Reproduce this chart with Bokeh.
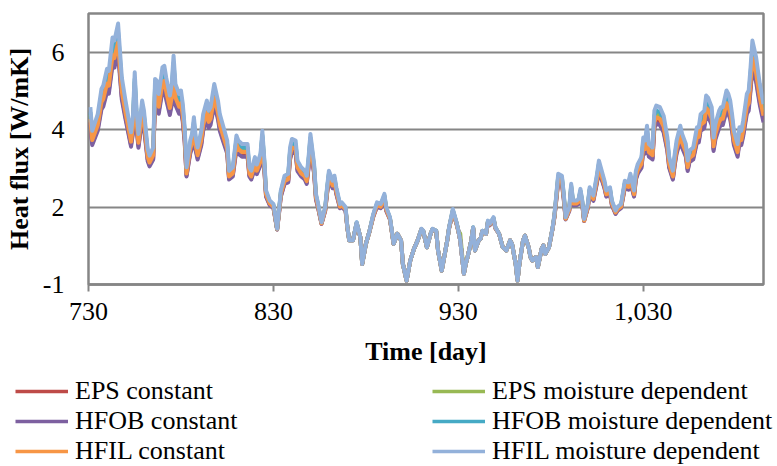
from bokeh.plotting import figure
from bokeh.layouts import column
from bokeh.models import Range1d, FixedTicker, NumeralTickFormatter, Legend, LegendItem
from bokeh.embed import file_html
from bokeh.resources import INLINE

# Simulation days (third year of the simulation)
day = [
    731, 732, 735, 737, 738, 740, 741, 743, 744, 746,
    747, 748, 750, 753, 754, 755, 756, 757, 759, 760,
    762, 763, 765, 766, 767, 768, 770, 771, 772, 774,
    775, 776, 777, 779, 780, 781, 782, 783, 785, 786,
    787, 788, 789, 791, 792, 794, 795, 796, 798, 800,
    801, 803, 805, 806, 808, 810, 811, 813, 814, 816,
    817, 818, 820, 821, 823, 824, 825, 826, 828, 830,
    832, 833, 834, 836, 838, 839, 840, 842, 843, 845,
    847, 848, 849, 850, 852, 853, 854, 856, 858, 859,
    860, 862, 863, 864, 866, 867, 869, 870, 871, 873,
    875, 877, 878, 880, 882, 884, 886, 888, 890, 891,
    893, 895, 897, 899, 900, 902, 904, 906, 908, 910,
    911, 913, 915, 916, 918, 919, 921, 923, 924, 925,
    927, 929, 930, 931, 933, 934, 935, 937, 938, 939,
    941, 942, 943, 945, 946, 947, 949, 950, 952, 954,
    956, 958, 959, 961, 962, 963, 965, 966, 968, 969,
    970, 972, 973, 975, 976, 977, 979, 981, 982, 983,
    984, 986, 987, 988, 990, 991, 992, 994, 995, 996,
    997, 998, 1000, 1001, 1003, 1005, 1006, 1007, 1009, 1010,
    1012, 1013, 1015, 1016, 1018, 1020, 1022, 1023, 1025, 1026,
    1027, 1029, 1030, 1031, 1032, 1033, 1035, 1036, 1037, 1039,
    1041, 1043, 1044, 1046, 1047, 1048, 1050, 1051, 1053, 1054,
    1055, 1057, 1059, 1060, 1061, 1063, 1064, 1065, 1067, 1068,
    1069, 1071, 1072, 1073, 1075, 1076, 1077, 1078, 1079, 1081,
    1082, 1083, 1084, 1086, 1087, 1088, 1089, 1091, 1092, 1093,
    1094, 1095,
]

# Heat flux [W/mK] per insulation case
hfil_moisture = [
    4.58, 3.97, 4.40, 5.05, 5.14, 5.57, 5.52, 6.38, 6.30, 6.74,
    6.04, 5.35, 4.75, 3.93, 4.32, 5.48, 4.49, 3.89, 4.75, 4.49,
    3.50, 3.33, 3.54, 5.31, 5.26, 4.92, 5.61, 5.65, 5.35, 4.88,
    5.18, 5.91, 5.18, 4.92, 5.01, 4.66, 4.06, 3.03, 3.72, 3.89,
    4.32, 3.80, 3.54, 3.97, 4.40, 4.75, 4.49, 4.58, 5.18, 4.75,
    4.40, 4.06, 3.72, 2.94, 3.03, 3.85, 3.72, 3.63, 3.63, 3.63,
    3.03, 2.94, 3.29, 3.10, 3.37, 3.97, 3.29, 2.43, 2.17, 2.08,
    1.44, 1.91, 2.43, 2.81, 2.86, 3.54, 3.76, 3.72, 3.20, 3.03,
    2.94, 2.81, 3.29, 3.89, 3.11, 2.34, 2.12, 1.61, 2.00, 2.51,
    2.94, 2.68, 2.81, 2.51, 2.08, 2.12, 2.00, 1.48, 1.14, 1.14,
    1.61, 1.22, 0.53, 1.05, 1.39, 1.82, 2.12, 2.08, 2.34, 2.00,
    1.74, 1.05, 1.31, 1.14, 0.53, 0.10, 0.62, 0.92, 1.14, 1.44,
    1.39, 0.96, 1.31, 1.44, 1.39, 0.88, 0.36, 0.88, 1.14, 1.48,
    1.95, 1.61, 1.39, 1.14, 0.28, 0.53, 0.71, 1.14, 1.48, 0.88,
    1.14, 1.18, 1.39, 1.31, 1.65, 1.57, 1.74, 1.48, 1.31, 0.96,
    0.88, 1.14, 1.05, 0.53, 0.10, 0.53, 1.14, 1.26, 0.96, 0.71,
    0.62, 0.71, 0.45, 0.92, 1.01, 0.79, 0.96, 1.48, 1.82, 2.34,
    2.86, 2.81, 2.34, 1.74, 2.00, 2.60, 2.17, 2.17, 2.21, 2.47,
    2.17, 1.69, 2.08, 2.51, 2.30, 2.86, 3.20, 3.03, 2.68, 2.43,
    2.51, 2.17, 1.91, 2.00, 2.08, 2.68, 2.64, 2.86, 2.43, 2.94,
    3.11, 3.29, 3.80, 3.72, 4.10, 3.63, 3.54, 4.49, 4.62, 4.58,
    4.36, 3.80, 3.29, 2.94, 3.37, 3.72, 4.10, 3.89, 3.63, 3.20,
    3.46, 3.54, 4.06, 4.06, 4.40, 4.49, 4.88, 4.83, 4.58, 3.80,
    4.15, 4.49, 4.58, 4.58, 5.01, 4.92, 4.75, 4.40, 3.97, 3.63,
    4.06, 3.97, 4.23, 4.92, 5.01, 5.61, 6.30, 5.87, 5.52, 5.18,
    4.92, 4.66,
]

hfob_moisture = [
    4.45, 3.86, 4.28, 4.90, 4.99, 5.40, 5.35, 6.18, 6.10, 6.52,
    5.85, 5.19, 4.61, 3.82, 4.20, 5.31, 4.36, 3.79, 4.61, 4.36,
    3.41, 3.25, 3.45, 5.15, 5.10, 4.78, 5.44, 5.48, 5.19, 4.74,
    5.02, 5.73, 5.02, 4.78, 4.86, 4.53, 3.95, 2.96, 3.62, 3.79,
    4.20, 3.70, 3.45, 3.86, 4.28, 4.61, 4.36, 4.45, 5.02, 4.61,
    4.28, 3.95, 3.62, 2.87, 2.96, 3.75, 3.62, 3.54, 3.54, 3.54,
    2.96, 2.87, 3.21, 3.03, 3.29, 3.86, 3.21, 2.38, 2.14, 2.05,
    1.43, 1.89, 2.38, 2.75, 2.80, 3.45, 3.66, 3.62, 3.12, 2.96,
    2.87, 2.75, 3.21, 3.79, 3.04, 2.30, 2.09, 1.60, 1.97, 2.46,
    2.87, 2.62, 2.75, 2.46, 2.05, 2.09, 1.97, 1.47, 1.14, 1.14,
    1.60, 1.22, 0.53, 1.05, 1.39, 1.80, 2.09, 2.05, 2.30, 1.97,
    1.72, 1.05, 1.31, 1.14, 0.53, 0.10, 0.62, 0.92, 1.14, 1.43,
    1.39, 0.96, 1.31, 1.43, 1.39, 0.88, 0.36, 0.88, 1.14, 1.47,
    1.92, 1.60, 1.39, 1.14, 0.28, 0.53, 0.71, 1.14, 1.47, 0.88,
    1.14, 1.18, 1.39, 1.31, 1.64, 1.56, 1.72, 1.47, 1.31, 0.96,
    0.88, 1.14, 1.05, 0.53, 0.10, 0.53, 1.14, 1.26, 0.96, 0.71,
    0.62, 0.71, 0.45, 0.92, 1.01, 0.79, 0.96, 1.47, 1.80, 2.30,
    2.80, 2.75, 2.30, 1.72, 1.97, 2.55, 2.14, 2.14, 2.17, 2.42,
    2.14, 1.67, 2.05, 2.46, 2.26, 2.80, 3.12, 2.96, 2.62, 2.38,
    2.46, 2.14, 1.89, 1.97, 2.05, 2.62, 2.59, 2.80, 2.38, 2.87,
    3.04, 3.21, 3.70, 3.62, 3.99, 3.54, 3.45, 4.36, 4.49, 4.45,
    4.24, 3.70, 3.21, 2.87, 3.29, 3.62, 3.99, 3.79, 3.54, 3.12,
    3.37, 3.45, 3.95, 3.95, 4.28, 4.36, 4.74, 4.69, 4.45, 3.70,
    4.04, 4.36, 4.45, 4.45, 4.86, 4.78, 4.61, 4.28, 3.86, 3.54,
    3.95, 3.86, 4.11, 4.78, 4.86, 5.44, 6.10, 5.69, 5.35, 5.02,
    4.78, 4.53,
]

eps_moisture = [
    4.38, 3.81, 4.21, 4.82, 4.91, 5.31, 5.27, 6.08, 6.00, 6.41,
    5.76, 5.11, 4.54, 3.77, 4.14, 5.23, 4.30, 3.73, 4.54, 4.30,
    3.37, 3.21, 3.41, 5.07, 5.02, 4.70, 5.35, 5.39, 5.11, 4.67,
    4.95, 5.63, 4.95, 4.70, 4.79, 4.46, 3.89, 2.93, 3.57, 3.73,
    4.14, 3.65, 3.41, 3.81, 4.21, 4.54, 4.30, 4.38, 4.95, 4.54,
    4.21, 3.89, 3.57, 2.84, 2.93, 3.70, 3.57, 3.49, 3.49, 3.49,
    2.93, 2.84, 3.17, 2.99, 3.25, 3.81, 3.17, 2.36, 2.12, 2.03,
    1.43, 1.87, 2.36, 2.72, 2.77, 3.41, 3.61, 3.57, 3.09, 2.93,
    2.84, 2.72, 3.17, 3.73, 3.00, 2.28, 2.07, 1.59, 1.96, 2.44,
    2.84, 2.60, 2.72, 2.44, 2.03, 2.07, 1.96, 1.47, 1.14, 1.14,
    1.59, 1.22, 0.53, 1.05, 1.38, 1.79, 2.07, 2.03, 2.28, 1.96,
    1.71, 1.05, 1.31, 1.14, 0.53, 0.10, 0.62, 0.92, 1.14, 1.43,
    1.38, 0.96, 1.31, 1.43, 1.38, 0.88, 0.36, 0.88, 1.14, 1.47,
    1.91, 1.59, 1.38, 1.32, 0.28, 0.53, 0.71, 1.14, 1.47, 0.88,
    1.14, 1.18, 1.38, 1.31, 1.63, 1.55, 1.71, 1.47, 1.31, 0.96,
    0.88, 1.14, 1.05, 0.53, 0.10, 0.53, 1.14, 1.26, 0.96, 0.71,
    0.62, 0.71, 0.45, 0.92, 1.01, 0.79, 0.96, 1.47, 1.79, 2.28,
    2.77, 2.72, 2.28, 1.71, 1.96, 2.52, 2.12, 2.12, 2.16, 2.40,
    2.12, 1.67, 2.03, 2.44, 2.24, 2.77, 3.09, 2.93, 2.60, 2.36,
    2.44, 2.12, 1.87, 1.96, 2.03, 2.60, 2.56, 2.77, 2.36, 2.84,
    3.00, 3.17, 3.65, 3.57, 3.93, 3.49, 3.41, 4.30, 4.42, 4.38,
    4.18, 3.65, 3.17, 2.84, 3.25, 3.57, 3.93, 3.73, 3.49, 3.09,
    3.33, 3.41, 3.89, 3.89, 4.21, 4.30, 4.67, 4.62, 4.38, 3.65,
    3.98, 4.30, 4.38, 4.38, 4.79, 4.70, 4.54, 4.21, 3.81, 3.49,
    3.89, 3.81, 4.05, 4.70, 4.79, 5.35, 6.00, 5.60, 5.27, 4.95,
    4.70, 4.46,
]

hfil_constant = [
    4.28, 3.73, 4.12, 4.71, 4.79, 5.19, 5.14, 5.92, 5.85, 6.25,
    5.61, 4.99, 4.44, 3.69, 4.05, 5.10, 4.20, 3.66, 4.44, 4.20,
    3.30, 3.15, 3.34, 4.95, 4.90, 4.59, 5.22, 5.26, 4.99, 4.56,
    4.83, 5.50, 4.83, 4.59, 4.68, 4.36, 3.81, 2.87, 3.50, 3.66,
    4.05, 3.57, 3.34, 3.73, 4.12, 4.44, 4.20, 4.28, 4.83, 4.44,
    4.12, 3.81, 3.50, 2.79, 2.87, 3.62, 3.50, 3.42, 3.42, 3.42,
    2.87, 2.79, 3.11, 2.94, 3.18, 3.73, 3.11, 2.33, 2.09, 2.01,
    1.43, 1.86, 2.33, 2.67, 2.72, 3.34, 3.54, 3.50, 3.03, 2.87,
    2.79, 2.67, 3.11, 3.66, 2.95, 2.25, 2.05, 1.58, 1.94, 2.40,
    2.79, 2.56, 2.67, 2.40, 2.01, 2.05, 1.94, 1.46, 1.14, 1.14,
    1.58, 1.22, 0.53, 1.05, 1.38, 1.77, 2.05, 2.01, 2.25, 1.94,
    1.70, 1.05, 1.31, 1.14, 0.53, 0.10, 0.62, 0.92, 1.14, 1.43,
    1.38, 0.96, 1.31, 1.43, 1.38, 0.88, 0.36, 0.88, 1.14, 1.46,
    1.89, 1.58, 1.38, 1.14, 0.28, 0.53, 0.71, 1.14, 1.46, 0.88,
    1.14, 1.18, 1.38, 1.31, 1.62, 1.55, 1.70, 1.46, 1.31, 0.96,
    0.88, 1.14, 1.05, 0.53, 0.10, 0.53, 1.14, 1.26, 0.96, 0.71,
    0.62, 0.71, 0.45, 0.92, 1.01, 0.79, 0.96, 1.46, 1.77, 2.25,
    2.72, 2.67, 2.25, 1.70, 1.94, 2.48, 2.09, 2.09, 2.13, 2.36,
    2.09, 1.65, 2.01, 2.40, 2.21, 2.72, 3.03, 2.87, 2.56, 2.33,
    2.40, 2.09, 1.86, 1.94, 2.01, 2.56, 2.52, 2.72, 2.33, 2.79,
    2.95, 3.11, 3.57, 3.50, 3.85, 3.42, 3.34, 4.20, 4.32, 4.28,
    4.08, 3.57, 3.11, 2.79, 3.18, 3.50, 3.85, 3.66, 3.42, 3.03,
    3.27, 3.34, 3.81, 3.81, 4.12, 4.20, 4.56, 4.51, 4.28, 3.57,
    3.89, 4.20, 4.28, 4.28, 4.68, 4.59, 4.44, 4.12, 3.73, 3.42,
    3.81, 3.73, 3.97, 4.59, 4.68, 5.22, 5.85, 5.46, 5.14, 4.83,
    4.59, 4.36,
]

eps_constant = [
    4.19, 3.65, 4.03, 4.60, 4.68, 5.06, 5.01, 5.77, 5.70, 6.09,
    5.47, 4.86, 4.34, 3.61, 3.96, 4.98, 4.11, 3.58, 4.34, 4.11,
    3.24, 3.09, 3.27, 4.83, 4.78, 4.49, 5.09, 5.13, 4.86, 4.45,
    4.71, 5.36, 4.71, 4.49, 4.56, 4.26, 3.73, 2.82, 3.43, 3.58,
    3.96, 3.50, 3.27, 3.65, 4.03, 4.34, 4.11, 4.19, 4.71, 4.34,
    4.03, 3.73, 3.43, 2.74, 2.82, 3.54, 3.43, 3.35, 3.35, 3.35,
    2.82, 2.74, 3.05, 2.88, 3.12, 3.65, 3.05, 2.29, 2.07, 1.99,
    1.42, 1.84, 2.29, 2.63, 2.67, 3.27, 3.46, 3.43, 2.97, 2.82,
    2.74, 2.63, 3.05, 3.58, 2.89, 2.22, 2.02, 1.57, 1.92, 2.36,
    2.74, 2.51, 2.63, 2.36, 1.99, 2.02, 1.92, 1.46, 1.14, 1.14,
    1.57, 1.22, 0.53, 1.05, 1.38, 1.76, 2.02, 1.99, 2.22, 1.92,
    1.69, 1.05, 1.31, 1.14, 0.53, 0.10, 0.62, 0.92, 1.14, 1.42,
    1.38, 0.96, 1.31, 1.42, 1.38, 0.88, 0.36, 0.88, 1.14, 1.46,
    1.87, 1.57, 1.38, 1.14, 0.28, 0.53, 0.71, 1.14, 1.46, 0.88,
    1.14, 1.18, 1.38, 1.31, 1.61, 1.54, 1.69, 1.46, 1.31, 0.96,
    0.88, 1.14, 1.05, 0.53, 0.10, 0.53, 1.14, 1.26, 0.96, 0.71,
    0.62, 0.71, 0.45, 0.92, 1.01, 0.79, 0.96, 1.46, 1.76, 2.22,
    2.67, 2.63, 2.22, 1.69, 1.92, 2.44, 2.07, 2.07, 2.10, 2.33,
    2.07, 1.64, 1.99, 2.36, 2.18, 2.67, 2.97, 2.82, 2.51, 2.29,
    2.36, 2.07, 1.84, 1.92, 1.99, 2.51, 2.48, 2.67, 2.29, 2.74,
    2.89, 3.05, 3.50, 3.43, 3.76, 3.35, 3.27, 4.11, 4.22, 4.19,
    3.99, 3.50, 3.05, 2.74, 3.12, 3.43, 3.76, 3.58, 3.35, 2.97,
    3.20, 3.27, 3.73, 3.73, 4.03, 4.11, 4.45, 4.41, 4.19, 3.50,
    3.81, 4.11, 4.19, 4.19, 4.56, 4.49, 4.34, 4.03, 3.65, 3.35,
    3.73, 3.65, 3.88, 4.49, 4.56, 5.09, 5.70, 5.32, 5.01, 4.71,
    4.49, 4.26,
]

hfob_constant = [
    4.12, 3.60, 3.97, 4.52, 4.60, 4.97, 4.93, 5.67, 5.60, 5.98,
    5.38, 4.78, 4.27, 3.56, 3.90, 4.89, 4.04, 3.53, 4.27, 4.04,
    3.19, 3.05, 3.23, 4.75, 4.71, 4.41, 5.01, 5.04, 4.78, 4.38,
    4.64, 5.26, 4.64, 4.41, 4.49, 4.19, 3.67, 2.79, 3.38, 3.53,
    3.90, 3.45, 3.23, 3.60, 3.97, 4.27, 4.04, 4.12, 4.64, 4.27,
    3.97, 3.67, 3.38, 2.71, 2.79, 3.49, 3.38, 3.30, 3.30, 3.30,
    2.79, 2.71, 3.01, 2.85, 3.08, 3.60, 3.01, 2.27, 2.05, 1.97,
    1.42, 1.82, 2.27, 2.60, 2.64, 3.23, 3.42, 3.38, 2.93, 2.79,
    2.71, 2.60, 3.01, 3.53, 2.86, 2.19, 2.01, 1.57, 1.90, 2.34,
    2.71, 2.49, 2.60, 2.34, 1.97, 2.01, 1.90, 1.45, 1.14, 1.14,
    1.57, 1.22, 0.53, 1.05, 1.38, 1.75, 2.01, 1.97, 2.19, 1.90,
    1.68, 1.05, 1.31, 1.14, 0.53, 0.10, 0.62, 0.92, 1.14, 1.42,
    1.38, 0.96, 1.31, 1.42, 1.38, 0.88, 0.36, 0.88, 1.14, 1.45,
    1.86, 1.57, 1.38, 1.14, 0.28, 0.53, 0.71, 1.14, 1.45, 0.88,
    1.14, 1.18, 1.38, 1.31, 1.60, 1.53, 1.68, 1.45, 1.31, 0.96,
    0.88, 1.14, 1.05, 0.53, 0.10, 0.53, 1.14, 1.26, 0.96, 0.71,
    0.62, 0.71, 0.45, 0.92, 1.01, 0.79, 0.96, 1.45, 1.75, 2.19,
    2.64, 2.60, 2.19, 1.68, 1.90, 2.42, 2.05, 2.05, 2.08, 2.31,
    2.05, 1.64, 1.97, 2.34, 2.16, 2.64, 2.93, 2.79, 2.49, 2.27,
    2.34, 2.05, 1.82, 1.90, 1.97, 2.49, 2.45, 2.64, 2.27, 2.71,
    2.86, 3.01, 3.45, 3.38, 3.71, 3.30, 3.23, 4.04, 4.16, 4.12,
    3.93, 3.45, 3.01, 2.71, 3.08, 3.38, 3.71, 3.53, 3.30, 2.93,
    3.16, 3.23, 3.67, 3.67, 3.97, 4.04, 4.38, 4.34, 4.12, 3.45,
    3.75, 4.04, 4.12, 4.12, 4.49, 4.41, 4.27, 3.97, 3.60, 3.30,
    3.67, 3.60, 3.82, 4.41, 4.49, 5.01, 5.60, 5.23, 4.93, 4.64,
    4.41, 4.19,
]

x_ticks = [730, 830, 930, 1030]
y_ticks = [0, 2, 4, 6]
y_tick_text = {0: "-1"}

FONT = "Liberation Serif"
GRAY = "#868686"

series = [
    ("EPS constant", eps_constant, "#BE4B48"),
    ("EPS moisture dependent", eps_moisture, "#98B954"),
    ("HFOB constant", hfob_constant, "#7D60A0"),
    ("HFOB moisture dependent", hfob_moisture, "#46AAC5"),
    ("HFIL constant", hfil_constant, "#F79646"),
    ("HFIL moisture dependent", hfil_moisture, "#93B1DA"),
]

# ---- main chart -------------------------------------------------------
p = figure(
    width=777, height=376,
    output_backend="svg", toolbar_location=None,
    x_range=Range1d(730, 1095), y_range=Range1d(0, 7),
    min_border_left=88, min_border_right=14,
    min_border_top=13, min_border_bottom=92,
)
p.frame_align = False
p.background_fill_color = "white"
p.border_fill_color = "white"
p.outline_line_color = GRAY
p.outline_line_width = 2.5

p.xgrid.visible = False
p.ygrid.grid_line_color = GRAY
p.ygrid.grid_line_width = 2

p.yaxis.ticker = FixedTicker(ticks=y_ticks)
p.yaxis.major_label_overrides = y_tick_text
p.yaxis.axis_line_color = None
p.yaxis.major_tick_line_color = None
p.yaxis.minor_tick_line_color = None
p.yaxis.major_tick_out = 0
p.yaxis.major_label_standoff = 24
p.yaxis.axis_label = "Heat flux [W/mK]"
p.yaxis.axis_label_standoff = 6

p.xaxis.ticker = FixedTicker(ticks=x_ticks)
p.xaxis.formatter = NumeralTickFormatter(format="0,0")
p.xaxis.axis_line_color = GRAY
p.xaxis.axis_line_width = 2.5
p.xaxis.major_tick_line_color = GRAY
p.xaxis.major_tick_line_width = 2
p.xaxis.major_tick_in = 0
p.xaxis.major_tick_out = 7
p.xaxis.minor_tick_line_color = None
p.xaxis.major_label_standoff = 11
p.xaxis.axis_label = "Time [day]"
p.xaxis.axis_label_standoff = 14

for ax in (p.xaxis, p.yaxis):
    ax.major_label_text_font = FONT
    ax.major_label_text_font_size = "26px"
    ax.major_label_text_color = "black"
    ax.axis_label_text_font = FONT
    ax.axis_label_text_font_size = "26px"
    ax.axis_label_text_font_style = "bold"
    ax.axis_label_text_color = "black"

for name, vals, color in series:
    p.line(day, vals, line_color=color, line_width=4, line_join="round")

# ---- legend strip under the chart -------------------------------------
lg = figure(
    width=777, height=90,
    output_backend="svg", toolbar_location=None,
    x_range=Range1d(0, 1), y_range=Range1d(0, 1),
    x_axis_location=None, y_axis_location=None,
    min_border=0, min_border_left=0, min_border_right=0,
    min_border_top=0, min_border_bottom=0,
)
lg.frame_align = False
lg.outline_line_color = None
lg.grid.visible = False
lg.background_fill_color = "white"
lg.border_fill_color = "white"

# keys for the legend: same styling as the chart lines, placed off-view
items = []
for name, vals, color in series:
    r = lg.line(x=[-5, -4], y=[-5, -4], line_color=color, line_width=3.5)
    items.append(LegendItem(label=name, renderers=[r]))


def make_legend(its, loc):
    leg = Legend(items=its, location=loc, orientation="vertical")
    leg.label_text_font = FONT
    leg.label_text_font_size = "26px"
    leg.label_text_color = "black"
    leg.glyph_width = 53
    leg.glyph_height = 30
    leg.label_height = 30
    leg.label_standoff = 7
    leg.spacing = 0
    leg.padding = 0
    leg.margin = 0
    leg.border_line_color = None
    leg.background_fill_alpha = 0
    return leg


lg.add_layout(make_legend(items[0::2], (15, 0)), "center")
lg.add_layout(make_legend(items[1::2], (432, 0)), "center")

layout = column(p, lg, spacing=0)
open("out.html", "w").write(file_html(layout, INLINE))
